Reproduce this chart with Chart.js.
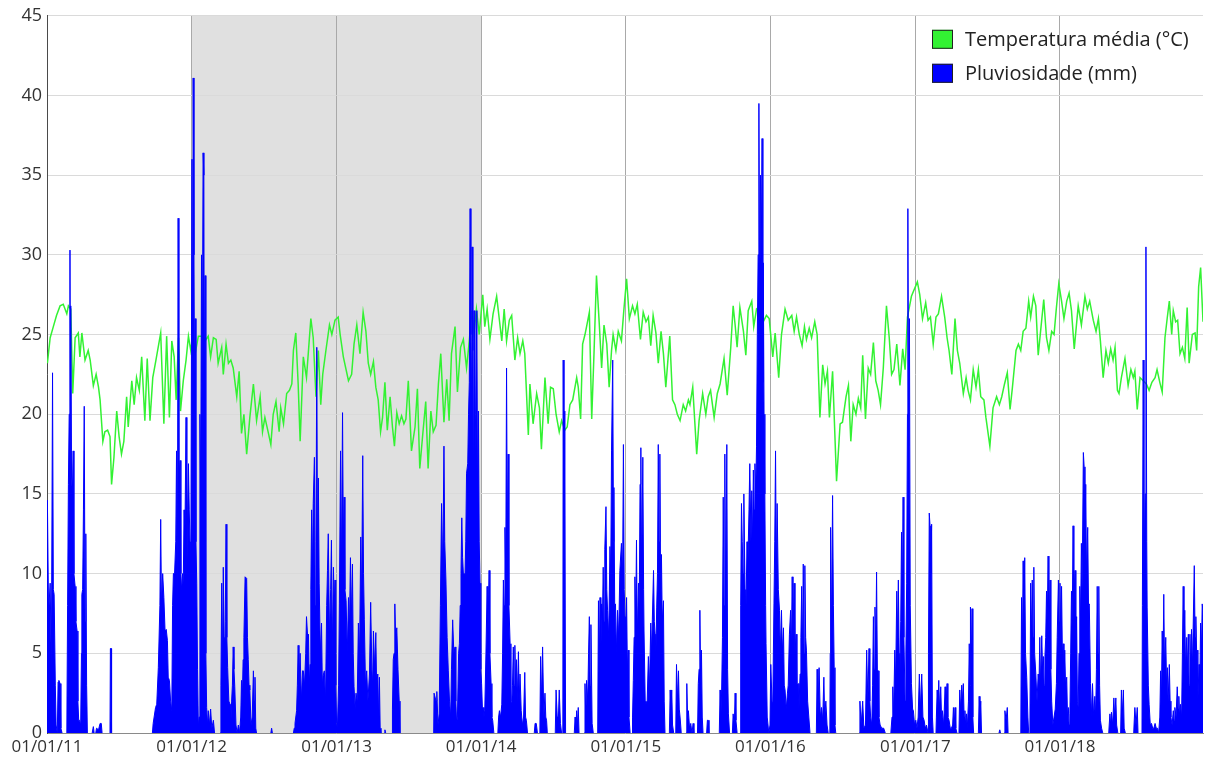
<!DOCTYPE html>
<html>
<head>
<meta charset="utf-8">
<title>Temperatura e pluviosidade</title>
<script src="https://cdn.jsdelivr.net/npm/chart.js@4.4.1/dist/chart.umd.min.js"></script>
<style>
  body { margin: 0; background: #fff; }
  #wrap { width: 1208px; height: 760px; }
</style>
</head>
<body>
<div id="wrap"><canvas id="chart" width="1208" height="760"></canvas></div>
<script>
// x values are days counted from 01/01/2011
const yearTicks = [0, 365, 731, 1096, 1461, 1826, 2192, 2557]
const yearLabels = ["01/01/11", "01/01/12", "01/01/13", "01/01/14", "01/01/15", "01/01/16", "01/01/17", "01/01/18"]
const lastDay = 2918
const shadeFrom = 365   // 01/01/12
const shadeTo = 1096    // 01/01/14
const seriesLabels = ["Temperatura média (°C)", "Pluviosidade (mm)"]

const tempDays = [
  1, 8, 16, 24, 33, 41, 50, 54, 60, 65, 71, 79,
  83, 88, 96, 104, 109, 117, 124, 130, 134, 141, 146, 153,
  159, 163, 169, 176, 182, 188, 194, 201, 205, 214, 220, 226,
  233, 239, 247, 253, 260, 267, 275, 287, 295, 302, 309, 315,
  321, 326, 332, 337, 344, 351, 357, 363, 368, 374, 382, 390,
  399, 407, 413, 420, 427, 432, 441, 445, 452, 458, 464, 470,
  479, 485, 491, 497, 504, 512, 521, 529, 538, 544, 550, 559,
  565, 571, 578, 586, 590, 597, 605, 612, 618, 622, 628, 634,
  639, 647, 655, 666, 672, 679, 685, 691, 696, 704, 713, 719,
  727, 735, 740, 748, 761, 769, 775, 782, 790, 798, 805, 811,
  817, 824, 830, 836, 842, 847, 853, 859, 866, 872, 877, 883,
  889, 895, 901, 906, 912, 920, 929, 935, 941, 948, 956, 962,
  969, 975, 982, 988, 994, 1002, 1009, 1015, 1021, 1030, 1036, 1044,
  1051, 1059, 1066, 1072, 1078, 1084, 1091, 1100, 1105, 1111, 1118, 1126,
  1135, 1142, 1148, 1154, 1160, 1167, 1173, 1181, 1188, 1194, 1201, 1206,
  1215, 1219, 1227, 1236, 1243, 1248, 1257, 1265, 1271, 1278, 1285, 1293,
  1299, 1307, 1313, 1320, 1327, 1337, 1341, 1347, 1352, 1358, 1362, 1369,
  1375, 1381, 1387, 1394, 1400, 1406, 1413, 1419, 1425, 1429, 1436, 1442,
  1450, 1456, 1463, 1470, 1478, 1484, 1490, 1498, 1505, 1512, 1518, 1524, 1530,
  1537, 1543, 1550, 1556, 1562, 1572, 1579, 1585, 1591, 1598, 1606, 1612,
  1619, 1623, 1630, 1640, 1646, 1655, 1663, 1669, 1675, 1684, 1692, 1699,
  1709, 1717, 1726, 1732, 1737, 1742, 1749, 1758, 1764, 1770, 1779, 1784,
  1791, 1800, 1808, 1816, 1823, 1832, 1838, 1847, 1854, 1863, 1871, 1880,
  1886, 1892, 1899, 1906, 1912, 1917, 1924, 1930, 1938, 1944, 1951, 1958,
  1964, 1970, 1975, 1983, 1993, 2002, 2008, 2017, 2023, 2029, 2035, 2042,
  2048, 2054, 2059, 2066, 2073, 2079, 2086, 2092, 2098, 2104, 2111, 2119,
  2126, 2132, 2138, 2145, 2153, 2160, 2166, 2172, 2182, 2197, 2203, 2210,
  2218, 2224, 2230, 2237, 2244, 2250, 2258, 2266, 2272, 2277, 2284, 2292,
  2298, 2304, 2313, 2320, 2325, 2331, 2338, 2345, 2351, 2357, 2365, 2370,
  2380, 2388, 2397, 2404, 2410, 2417, 2424, 2431, 2437, 2446, 2452, 2458,
  2464, 2471, 2478, 2483, 2490, 2496, 2502, 2508, 2516, 2523, 2529, 2536,
  2542, 2548, 2554, 2561, 2567, 2574, 2580, 2586, 2593, 2603, 2611, 2620,
  2626, 2632, 2641, 2648, 2654, 2659, 2666, 2673, 2679, 2685, 2691, 2696,
  2702, 2706, 2712, 2721, 2729, 2736, 2742, 2746, 2752, 2759, 2767, 2775,
  2782, 2789, 2797, 2802, 2809, 2815, 2822, 2828, 2833, 2839, 2843, 2849,
  2854, 2860, 2866, 2872, 2878, 2883, 2891, 2898, 2902, 2907, 2912, 2918
]
const tempValues = [
  23.2, 24.8, 25.5, 26.2, 26.8, 26.9, 26.3, 26.8, 26.6, 21.3, 24.8, 25.1,
  23.6, 25.1, 23.4, 24.0, 23.4, 21.8, 22.5, 21.7, 20.9, 18.3, 18.9, 19.0,
  18.6, 15.6, 17.3, 20.2, 18.6, 17.5, 18.3, 21.1, 19.2, 22.1, 20.6, 22.3,
  21.5, 23.6, 19.6, 23.5, 19.6, 22.3, 23.4, 25.1, 19.4, 24.9, 19.8, 24.6,
  23.6, 20.9, 24.8, 20.2, 22.1, 23.4, 24.9, 24.0, 24.9, 23.8, 24.9, 24.9,
  24.6, 24.9, 23.6, 24.8, 24.7, 23.2, 24.2, 22.5, 24.4, 23.2, 23.4, 22.9,
  21.1, 22.7, 18.8, 20.0, 17.5, 19.8, 21.9, 19.6, 21.1, 18.9, 19.8, 18.8,
  18.1, 20.0, 20.8, 18.9, 20.4, 19.4, 21.3, 21.5, 21.9, 24.0, 25.1, 21.9,
  18.3, 23.6, 22.3, 26.0, 24.8, 21.1, 24.0, 20.6, 22.5, 24.0, 25.6, 25.0,
  25.9, 26.1, 25.0, 23.6, 22.1, 22.5, 24.4, 25.6, 23.8, 26.4, 25.2, 23.2,
  22.5, 23.3, 21.7, 20.9, 18.9, 19.8, 22.0, 19.0, 21.1, 19.2, 18.0, 20.1,
  19.4, 19.9, 19.4, 19.7, 22.1, 17.7, 19.2, 21.6, 16.6, 18.6, 20.8, 16.6,
  20.2, 18.9, 19.3, 21.9, 23.8, 19.5, 22.2, 19.6, 23.8, 25.5, 21.4, 24.2,
  24.7, 22.9, 24.6, 26.5, 25.2, 26.6, 25.0, 27.5, 25.5, 26.6, 24.7, 26.3,
  27.4, 25.9, 24.6, 26.6, 24.6, 25.9, 26.2, 23.4, 24.8, 23.8, 24.6, 23.8,
  18.7, 21.9, 19.4, 21.3, 20.4, 17.8, 22.3, 19.4, 21.7, 21.6, 20.0, 18.9,
  19.6, 19.0, 19.2, 20.6, 20.9, 22.3, 21.7, 19.7, 24.4, 25.0, 25.5, 26.4,
  19.7, 24.0, 28.7, 25.7, 22.9, 25.6, 24.4, 21.7, 24.0, 25.0, 24.0, 25.2,
  24.6, 26.5, 28.5, 26.0, 26.8, 26.3, 26.9, 24.7, 26.4, 25.8, 26.1, 24.3, 26.2,
  25.1, 23.2, 25.2, 23.8, 21.7, 24.9, 20.9, 20.6, 20.0, 19.6, 20.6, 20.2,
  20.9, 20.6, 21.7, 17.5, 19.6, 21.3, 20.0, 21.1, 21.5, 19.8, 21.3, 21.9,
  23.5, 21.2, 24.2, 26.8, 25.6, 24.2, 26.7, 25.2, 23.7, 26.5, 27.1, 25.5,
  26.6, 26.4, 25.8, 26.2, 26.0, 23.6, 25.1, 22.3, 25.0, 26.6, 25.9, 26.2,
  25.2, 26.1, 25.0, 24.3, 25.5, 24.7, 25.4, 24.8, 25.8, 25.0, 19.8, 23.1,
  21.9, 22.7, 19.8, 22.7, 15.8, 19.4, 19.5, 21.1, 21.8, 18.3, 20.6, 20.0,
  21.0, 20.4, 23.7, 19.7, 22.9, 22.5, 24.5, 22.1, 21.5, 20.6, 22.9, 26.8,
  24.8, 22.5, 22.8, 24.4, 21.8, 24.1, 22.8, 26.1, 27.4, 28.3, 27.5, 26.0,
  27.0, 25.9, 26.1, 24.4, 26.1, 26.3, 27.4, 26.1, 24.8, 24.0, 22.5, 26.0,
  24.0, 23.2, 21.3, 22.3, 21.5, 20.9, 22.8, 21.7, 22.8, 21.1, 20.9, 19.8,
  18.0, 20.4, 21.1, 20.6, 21.1, 21.9, 22.6, 20.3, 21.7, 24.0, 24.4, 24.0,
  25.2, 25.4, 27.1, 26.1, 27.4, 26.8, 23.7, 25.2, 27.2, 24.8, 24.0, 25.2,
  25.0, 26.7, 28.2, 27.1, 26.0, 27.1, 27.6, 26.5, 24.1, 26.8, 25.6, 27.4,
  26.6, 27.1, 25.9, 25.2, 26.0, 24.6, 22.3, 24.0, 23.2, 24.1, 23.4, 24.2,
  21.5, 21.3, 22.3, 23.5, 21.8, 22.8, 22.3, 22.7, 20.3, 22.3, 22.1, 21.9,
  21.5, 22.0, 22.3, 22.8, 22.0, 21.4, 24.8, 26.1, 27.1, 25.0, 26.5, 25.8,
  25.9, 23.8, 24.2, 23.5, 26.7, 23.2, 25.0, 25.1, 24.0, 28.0, 29.2, 25.8
]

const rainDays = [
  0, 1, 4, 8, 11, 14, 16, 18, 21, 23, 26, 28,
  30, 33, 35, 38, 50, 52, 54, 56, 58, 59, 60, 62,
  64, 66, 68, 71, 73, 76, 78, 80, 82, 85, 87, 88,
  90, 92, 94, 96, 98, 100, 102, 114, 117, 119, 123, 125,
  130, 134, 137, 139, 159, 160, 162, 163, 266, 268, 274, 277,
  281, 285, 287, 289, 292, 295, 298, 301, 304, 306, 309, 312,
  315, 317, 319, 322, 325, 327, 329, 331, 333, 336, 338, 340,
  342, 344, 346, 348, 351, 353, 355, 357, 359, 361, 363, 366,
  368, 369, 371, 373, 374, 376, 378, 380, 382, 384, 386, 388,
  390, 392, 394, 396, 397, 399, 401, 403, 405, 407, 410, 413,
  416, 420, 423, 437, 439, 441, 443, 445, 447, 449, 450, 452,
  454, 456, 459, 462, 464, 466, 468, 470, 472, 474, 477, 480,
  483, 486, 489, 491, 493, 495, 497, 500, 502, 504, 506, 508,
  510, 512, 515, 518, 521, 523, 525, 527, 529, 565, 567, 569,
  622, 624, 626, 630, 632, 634, 636, 639, 642, 645, 647, 650,
  653, 655, 658, 660, 662, 664, 666, 668, 670, 672, 675, 677,
  679, 681, 683, 685, 687, 690, 693, 695, 697, 700, 703, 706,
  708, 710, 713, 716, 718, 720, 723, 725, 727, 729, 731, 733,
  736, 738, 741, 743, 746, 748, 750, 752, 755, 758, 761, 763,
  766, 768, 771, 773, 775, 778, 780, 783, 786, 789, 792, 794,
  797, 799, 801, 804, 807, 810, 814, 817, 820, 822, 824, 827,
  830, 832, 835, 837, 839, 841, 843, 851, 853, 855, 871, 872,
  874, 876, 878, 880, 883, 886, 889, 891, 976, 977, 979, 982,
  984, 987, 990, 993, 996, 999, 1002, 1004, 1007, 1010, 1013, 1016,
  1019, 1021, 1024, 1027, 1030, 1032, 1034, 1036, 1039, 1041, 1043, 1045,
  1047, 1049, 1051, 1053, 1055, 1057, 1059, 1062, 1064, 1066, 1068, 1070,
  1072, 1073, 1075, 1077, 1078, 1080, 1082, 1085, 1087, 1089, 1091, 1093,
  1095, 1097, 1099, 1101, 1103, 1105, 1108, 1111, 1113, 1116, 1118, 1121,
  1123, 1125, 1128, 1138, 1140, 1142, 1145, 1148, 1150, 1152, 1154, 1156,
  1158, 1160, 1162, 1164, 1166, 1169, 1171, 1173, 1175, 1177, 1179, 1181,
  1183, 1185, 1187, 1190, 1192, 1194, 1197, 1200, 1203, 1206, 1208, 1210,
  1213, 1230, 1232, 1235, 1238, 1244, 1246, 1248, 1251, 1254, 1257, 1259,
  1261, 1263, 1283, 1285, 1288, 1291, 1293, 1296, 1299, 1302, 1303, 1305,
  1307, 1309, 1331, 1333, 1335, 1337, 1339, 1341, 1343, 1356, 1358, 1360,
  1362, 1365, 1367, 1369, 1371, 1373, 1376, 1379, 1390, 1392, 1394, 1396,
  1398, 1400, 1402, 1404, 1406, 1408, 1411, 1413, 1415, 1418, 1421, 1423,
  1425, 1428, 1430, 1431, 1433, 1435, 1437, 1440, 1443, 1446, 1450, 1453,
  1455, 1457, 1459, 1461, 1463, 1465, 1467, 1469, 1472, 1477, 1478, 1480,
  1482, 1484, 1486, 1488, 1490, 1493, 1495, 1497, 1499, 1501, 1504, 1506,
  1507, 1510, 1512, 1515, 1518, 1521, 1524, 1526, 1528, 1531, 1533, 1535,
  1537, 1539, 1541, 1543, 1545, 1547, 1549, 1551, 1553, 1556, 1558, 1560,
  1571, 1573, 1575, 1577, 1579, 1582, 1587, 1589, 1591, 1594, 1596, 1598,
  1601, 1613, 1615, 1617, 1619, 1622, 1625, 1628, 1631, 1633, 1642, 1644,
  1646, 1648, 1650, 1652, 1654, 1656, 1665, 1667, 1669, 1671, 1697, 1699,
  1701, 1703, 1705, 1707, 1709, 1711, 1713, 1716, 1718, 1720, 1723, 1730,
  1732, 1735, 1737, 1739, 1742, 1750, 1751, 1753, 1755, 1757, 1759, 1762,
  1764, 1767, 1769, 1772, 1774, 1777, 1779, 1781, 1783, 1785, 1787, 1789,
  1791, 1793, 1795, 1797, 1799, 1801, 1803, 1805, 1807, 1808, 1810, 1812,
  1814, 1815, 1818, 1822, 1825, 1827, 1830, 1832, 1835, 1837, 1839, 1841,
  1843, 1846, 1849, 1851, 1854, 1856, 1859, 1861, 1863, 1866, 1869, 1871,
  1874, 1877, 1879, 1881, 1883, 1886, 1888, 1891, 1893, 1896, 1898, 1901,
  1903, 1905, 1907, 1909, 1911, 1913, 1915, 1917, 1920, 1923, 1926, 1942,
  1944, 1946, 1949, 1952, 1955, 1958, 1961, 1963, 1966, 1969, 1972, 1976,
  1977, 1978, 1980, 1983, 1985, 1987, 1989, 1991, 2050, 2052, 2055, 2059,
  2062, 2066, 2069, 2072, 2075, 2077, 2079, 2082, 2084, 2086, 2088, 2090,
  2092, 2094, 2096, 2098, 2100, 2103, 2107, 2112, 2116, 2130, 2133, 2135,
  2137, 2140, 2142, 2145, 2147, 2149, 2151, 2153, 2155, 2157, 2159, 2161,
  2163, 2166, 2168, 2170, 2172, 2173, 2175, 2177, 2179, 2182, 2185, 2187,
  2190, 2193, 2196, 2199, 2202, 2205, 2208, 2211, 2214, 2217, 2220, 2224,
  2225, 2227, 2229, 2231, 2233, 2235, 2237, 2244, 2245, 2247, 2249, 2251,
  2253, 2256, 2258, 2260, 2263, 2265, 2267, 2269, 2272, 2274, 2277, 2280,
  2283, 2286, 2288, 2290, 2292, 2294, 2297, 2302, 2304, 2306, 2309, 2311,
  2313, 2315, 2317, 2319, 2321, 2323, 2326, 2328, 2330, 2331, 2333, 2335,
  2337, 2339, 2351, 2353, 2355, 2357, 2359, 2403, 2405, 2407, 2416, 2418,
  2421, 2424, 2426, 2458, 2460, 2462, 2464, 2466, 2468, 2470, 2473, 2476,
  2478, 2481, 2483, 2485, 2487, 2489, 2491, 2493, 2496, 2499, 2502, 2504,
  2506, 2508, 2511, 2513, 2515, 2517, 2519, 2521, 2523, 2525, 2527, 2529,
  2532, 2534, 2536, 2539, 2542, 2545, 2548, 2550, 2553, 2555, 2557, 2559,
  2561, 2563, 2565, 2567, 2569, 2571, 2574, 2576, 2578, 2580, 2582, 2584,
  2586, 2588, 2590, 2592, 2595, 2597, 2599, 2601, 2603, 2605, 2607, 2609,
  2611, 2613, 2616, 2618, 2620, 2622, 2624, 2627, 2629, 2631, 2634, 2636,
  2639, 2642, 2645, 2647, 2649, 2651, 2653, 2655, 2657, 2659, 2662, 2665,
  2680, 2683, 2685, 2687, 2690, 2693, 2695, 2698, 2700, 2703, 2710, 2712,
  2714, 2717, 2719, 2722, 2743, 2746, 2749, 2752, 2754, 2764, 2765, 2767,
  2769, 2772, 2774, 2776, 2777, 2780, 2782, 2785, 2788, 2791, 2794, 2797,
  2800, 2803, 2806, 2809, 2811, 2813, 2815, 2817, 2819, 2821, 2824, 2826,
  2828, 2830, 2833, 2835, 2837, 2840, 2843, 2845, 2847, 2850, 2853, 2855,
  2857, 2859, 2861, 2864, 2866, 2868, 2870, 2872, 2874, 2877, 2879, 2881,
  2883, 2885, 2887, 2889, 2891, 2893, 2896, 2898, 2900, 2902, 2903, 2905,
  2908, 2910, 2912, 2914, 2916, 2918
]
const rainValues = [
  12.9, 14.6, 7.5, 9.4, 4, 22.6, 9, 8.7, 3, 0.5, 0, 3.2,
  3.3, 3.1, 0.3, 0, 0, 8, 15.6, 20, 30.3, 16, 26.8, 16,
  15, 17.7, 10, 9.2, 7, 6.4, 2, 0.8, 0.8, 0.5, 5, 8.7,
  9, 14, 20.5, 7, 12.5, 3, 0, 0, 0.4, 0, 0, 0.3,
  0.2, 0.6, 0.6, 0, 0, 5.3, 5.3, 0, 0, 0.6, 1.6, 1.8,
  4.1, 8, 13.4, 8, 10, 8.5, 6.4, 6.5, 5.8, 3.5, 3.3, 2,
  1.4, 8, 10, 10, 12, 17.7, 8, 32.3, 16, 17.1, 10, 8.9,
  10, 9.4, 14, 12, 19.8, 10, 14, 16.9, 14, 12, 10, 36,
  20, 41.1, 30, 18, 26, 12, 9.4, 4, 0.4, 1, 20, 15,
  30, 22, 36.4, 35, 20, 28.7, 5, 1.6, 0.5, 1.4, 0.5, 1.5,
  0.3, 0.8, 0, 0, 3, 9.4, 4, 10.4, 6, 5, 7, 13.1,
  6, 4.1, 2, 1.8, 0.5, 2, 3, 5.4, 4, 2.9, 0.5, 0,
  0.5, 0, 1, 3.3, 2, 4.6, 6, 9.8, 9.8, 9.7, 6, 4.6,
  3, 2.7, 0.5, 1, 3.9, 2, 3.5, 0.3, 0, 0, 0.3, 0,
  0, 0.3, 0.6, 1.4, 3, 5.5, 3, 5, 2, 3.9, 3.9, 3,
  5, 7.3, 6, 6.2, 3, 4.3, 9, 14, 10, 14.4, 17.3, 8,
  12, 24.2, 10, 16, 9.4, 5, 6.9, 3, 3.6, 3.9, 2, 8,
  10.2, 12.5, 6, 9, 12.1, 5, 10.4, 8, 9.6, 3, 0.6, 0.3,
  3, 8.1, 17.7, 10, 20.1, 12, 14.8, 9, 8.3, 5, 8.5, 6,
  11, 7, 10.6, 5, 2.9, 1.5, 2.5, 2, 6.9, 5, 12.3, 8,
  17.4, 10, 7.1, 3, 3.9, 2, 3.7, 8.2, 4, 3, 6.4, 4,
  6.3, 3, 3.7, 1, 3.5, 0.3, 0, 0, 0.2, 0, 0, 1.5,
  4.6, 5, 8.1, 6, 6.6, 4, 2, 0, 0, 2.5, 2.5, 2,
  2.6, 0.5, 1.2, 8, 14.4, 10, 18, 12, 9.6, 6, 3.9, 2,
  1, 4, 7.1, 5, 5.4, 2, 0.6, 1, 5, 5.6, 8, 10,
  13.5, 11, 10, 10, 9.6, 12, 16.3, 16.9, 20, 22, 32.9, 25,
  20, 30.5, 24, 15, 26.5, 17, 20, 26.5, 14, 20.2, 12, 9.4,
  4, 3.1, 1.6, 1.6, 1, 1.4, 5, 9.2, 6, 10.2, 5, 3.1,
  1, 0.8, 0, 0, 1, 1.4, 1, 1.8, 5, 9.6, 8, 12.9,
  10, 22.9, 12, 17.5, 8, 5.6, 2, 1.8, 3, 5.4, 3, 5.5,
  3, 4.6, 2, 5.1, 2, 3.7, 1.4, 0.5, 1, 3.8, 1, 0.8,
  0, 0, 0.6, 0.6, 0, 0, 4.8, 2, 5.4, 1, 2.5, 1,
  0.8, 0, 0, 2.7, 1, 1, 2.7, 0.6, 0, 0, 23.4, 8,
  20.2, 0, 0, 1, 0.3, 1.4, 0.5, 1.6, 0, 0, 3.1, 1,
  3.3, 2, 5, 7.3, 3, 6.8, 0.6, 0, 0, 8.3, 4, 8.5,
  5, 8.1, 7, 10.4, 7, 11.5, 14.2, 9, 7.7, 6, 11.7, 10,
  17.7, 23.4, 12, 15.4, 8, 8.1, 5, 7.7, 6, 10.2, 11.9, 10,
  18.1, 9, 7.3, 6, 8.5, 4, 5.2, 1, 0, 0, 1, 3.3,
  6, 9.8, 7, 12.1, 6, 9.4, 8, 15.6, 17.9, 10, 17.3, 9,
  6.4, 2, 1.8, 2, 4.8, 3, 6.9, 5, 7.1, 10.2, 7, 6.2,
  5, 7.9, 10, 18.1, 12, 17.5, 9, 11.2, 7, 8.3, 2, 0,
  0, 2.7, 1.5, 2.7, 0.5, 0, 0, 4.3, 2, 3.9, 1.5, 1,
  0, 0, 3.1, 1, 1.4, 0.3, 0.6, 0, 0.6, 0, 0, 3.1,
  4, 7.7, 3, 5.2, 1, 0, 0, 0.8, 0.8, 0, 0, 2.7,
  1, 2.7, 6, 14.8, 8, 17.5, 8, 18.1, 4, 1.2, 0, 0,
  1.2, 0.5, 2.5, 0.8, 0, 0, 8, 14.4, 12, 10, 15, 9,
  7.3, 12, 10.4, 14, 16.9, 12, 15.2, 12, 16.5, 14, 16.9, 15,
  18, 25, 30, 39.5, 26, 35, 30, 37.3, 22, 29.5, 20, 15,
  8, 5.6, 1, 0, 0.5, 4.3, 2, 1.8, 8.1, 12, 17.7, 10,
  14.4, 9, 7.7, 5, 7.7, 5, 6.6, 3, 2.7, 1.5, 2.5, 3,
  6.2, 7.7, 5, 9.8, 6, 9.4, 5, 6.2, 3, 3.1, 1.5, 3.7,
  6, 9.2, 5, 10.6, 5, 10.5, 6, 5.2, 2, 1, 0, 0,
  4, 1, 4.1, 1, 1.6, 0.8, 3.5, 1, 2, 0.5, 0, 0,
  5, 12.9, 6, 14.9, 8, 4.1, 0.5, 0, 0, 2, 0.5, 2,
  0.3, 0.5, 5.2, 2, 5.3, 2, 1, 0.5, 3, 7.3, 4, 7.9,
  5, 10.1, 4, 3.9, 1, 0.5, 0.3, 0.3, 0, 0, 1, 2.9,
  1, 5.2, 3, 8.9, 6, 9.6, 5, 3.7, 7, 12.6, 8, 14.8,
  6, 2, 5, 9.4, 20, 32.9, 18, 26, 8, 3.1, 1.5, 1.4,
  0.5, 0.8, 0.3, 1, 3.7, 1.5, 3.7, 1, 0.8, 0.3, 0.5, 0,
  5, 13.8, 13, 10, 13.1, 1, 0, 0, 1, 2.7, 1.5, 3.3,
  1.5, 2.9, 1, 1.4, 0.5, 1.5, 2.9, 1.5, 3.1, 1, 0.8, 0.3,
  0.3, 0.5, 1.6, 0.5, 1.6, 0.3, 0, 0, 2.7, 1.5, 3, 2,
  3.1, 1, 1.4, 0.5, 1.2, 0.3, 2, 5.6, 3, 7.9, 4, 7.8,
  1, 0, 0, 2.3, 1, 2, 0, 0, 0.2, 0, 0, 1.4,
  0.8, 1.6, 0, 0, 8.5, 5, 10.8, 7, 11, 5, 3.5, 1,
  0, 0, 9.4, 6, 9.6, 6, 10.4, 5, 3.7, 2, 3.7, 3,
  6, 3, 6.1, 4, 4.8, 3, 4.8, 6, 8.9, 7, 11.1, 6,
  9.6, 4, 2, 0.5, 1, 1.5, 3.1, 6, 9.6, 7, 9.4, 6,
  9.2, 5, 5.6, 3, 5.2, 3, 3.5, 1, 1.6, 0.5, 1.2, 5,
  8.9, 7, 13, 8, 10.2, 5, 7.3, 2, 1.6, 5, 9.2, 7,
  11.9, 9, 17.6, 16.7, 12, 15.6, 10, 12.9, 8, 8.1, 3.1, 1,
  3.1, 1, 2.3, 1, 4, 9.2, 5, 9.2, 3, 0.8, 0.3, 0,
  0, 1.2, 0.5, 1.3, 0.5, 2.2, 1, 2.2, 0.5, 0, 0, 2.7,
  1, 2.7, 0.3, 0, 0, 1.6, 0.5, 1.6, 0, 0, 8, 23.4,
  10, 15, 30.5, 12, 7.9, 3, 1.8, 0.5, 0.6, 0.3, 0.3, 0.6,
  0.3, 0.3, 0, 1, 3.9, 2, 6.4, 4, 8.7, 4, 6, 3,
  4.1, 2, 4.3, 2, 1, 0.5, 1.4, 0.8, 1.6, 1, 2.9, 1.5,
  2.3, 1, 1.8, 1, 5, 9.2, 5, 7.7, 4, 6, 4, 6.2,
  3, 6.2, 4, 6.5, 4, 6.4, 10.5, 6, 7.3, 5, 5.2, 2,
  4.3, 3, 6.9, 5, 8.1, 7.6
]

const tempColor = "#33f233"
const rainColor = "#0000ff"

Chart.defaults.font.family = "'Open Sans', 'Noto Sans', sans-serif"
Chart.defaults.color = "#333"

// grey band behind the grid for 2012-2013
const shadePlugin = {
  id: "shade",
  beforeDraw(chart) {
    const { ctx, chartArea, scales } = chart
    const x1 = scales.x.getPixelForValue(shadeFrom)
    const x2 = scales.x.getPixelForValue(shadeTo)
    ctx.save()
    ctx.fillStyle = "#e0e0e0"
    ctx.fillRect(x1, chartArea.top, x2 - x1, chartArea.bottom - chartArea.top)
    ctx.restore()
  }
}

// legend drawn inside the plot, top right corner
const cornerLegend = {
  id: "cornerLegend",
  afterDraw(chart) {
    const { ctx, chartArea } = chart
    const colors = [tempColor, rainColor]
    ctx.save()
    ctx.font = "20px 'Open Sans', 'Noto Sans', sans-serif"
    ctx.textBaseline = "middle"
    seriesLabels.forEach((label, i) => {
      const bx = chartArea.right - 271
      const by = chartArea.top + 14 + i * 34
      ctx.fillStyle = colors[i]
      ctx.fillRect(bx, by, 21, 19)
      ctx.strokeStyle = "#222"
      ctx.lineWidth = 1
      ctx.strokeRect(bx + 0.5, by + 0.5, 20, 18)
      ctx.fillStyle = "#222"
      ctx.fillText(label, bx + 33, by + 10)
    })
    ctx.restore()
  }
}

const tempPoints = tempDays.map((d, i) => ({ x: d, y: tempValues[i] }))
const rainPoints = rainDays.map((d, i) => ({ x: d, y: rainValues[i] }))

// no outline along the axis on dry stretches
const dryStretch = (seg) =>
  seg.p0.parsed.y === 0 && seg.p1.parsed.y === 0 ? "rgba(0,0,0,0)" : undefined

new Chart(document.getElementById("chart"), {
  type: "line",
  data: {
    datasets: [
      {
        label: seriesLabels[0],
        data: tempPoints,
        borderColor: tempColor,
        borderWidth: 1.5,
        pointRadius: 0,
        fill: false,
        tension: 0,
        order: 2
      },
      {
        label: seriesLabels[1],
        data: rainPoints,
        borderColor: rainColor,
        backgroundColor: rainColor,
        borderWidth: 1,
        pointRadius: 0,
        fill: "origin",
        tension: 0,
        segment: { borderColor: dryStretch },
        order: 1
      }
    ]
  },
  options: {
    responsive: false,
    animation: false,
    layout: { padding: { top: 15, right: 5, left: 0, bottom: 0 } },
    plugins: {
      legend: { display: false },
      tooltip: { enabled: false }
    },
    scales: {
      x: {
        type: "linear",
        min: 0,
        max: lastDay,
        afterBuildTicks: (scale) => {
          scale.ticks = yearTicks.map((v) => ({ value: v }))
        },
        afterFit: (scale) => { scale.height = 27 },
        ticks: {
          autoSkip: false,
          maxRotation: 0,
          padding: 4,
          font: { size: 17 },
          callback: (value, index) => yearLabels[index]
        },
        grid: { color: "#a9a9a9", drawTicks: false },
        border: { color: "#8a8a8a" }
      },
      y: {
        min: 0,
        max: 45,
        afterFit: (scale) => { scale.width = 47 },
        ticks: { stepSize: 5, padding: 5, font: { size: 18 } },
        grid: { color: "#dadada", drawTicks: false },
        border: { color: "#4a4a4a" }
      }
    }
  },
  plugins: [shadePlugin, cornerLegend]
})
</script>
</body>
</html>
